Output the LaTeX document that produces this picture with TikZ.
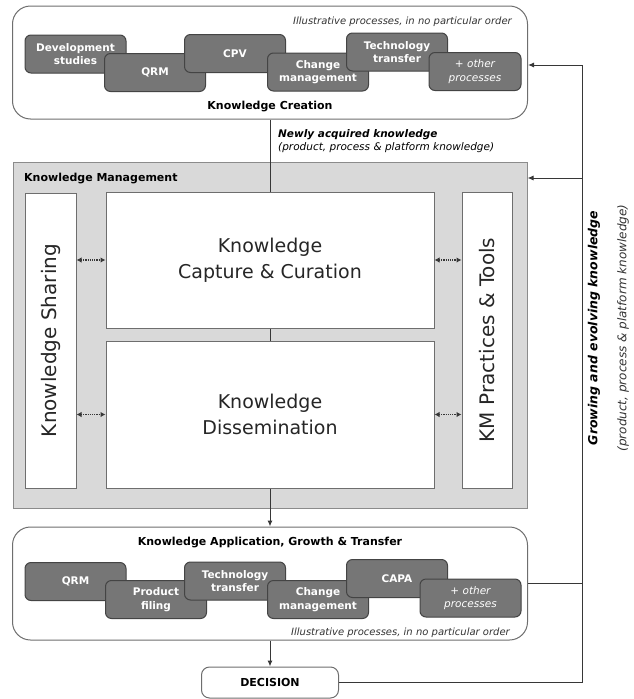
\documentclass[tikz,border=0pt]{standalone}
\usepackage{fontspec}
\setmainfont{DejaVu Sans}
\usetikzlibrary{arrows.meta}
\definecolor{procfill}{RGB}{118,118,118}
\definecolor{procline}{RGB}{68,68,68}
\definecolor{kmfill}{RGB}{217,217,217}
\definecolor{linegray}{RGB}{55,55,55}
\definecolor{boxline}{RGB}{110,110,110}

\begin{document}
\begin{tikzpicture} [
  x=1pt, y=-1pt,
  every node/.style={inner sep=0pt},
  proc/.style={draw=procline, fill=procfill, line width=1pt, rounded corners=6pt,
    minimum width=101pt, minimum height=38pt, text=white, align=center,
    font=\fontsize{10.5}{13.5}\selectfont\bfseries},
  other/.style={proc, font=\fontsize{10.5}{13.5}\selectfont\itshape},
  stage/.style={draw=boxline, fill=white, line width=1pt, rounded corners=18pt,
    minimum width=515pt, minimum height=113pt},
  kmbox/.style={draw=boxline, fill=white, line width=1pt},
  bigtext/.style={align=center, text=black!85, font=\fontsize{19}{26}\selectfont},
  sidetext/.style={rotate=90, text=black!85, font=\fontsize{20}{24}\selectfont},
  note/.style={font=\fontsize{10}{12}\selectfont\itshape, text=black!80},
  title/.style={font=\fontsize{11}{13}\selectfont\bfseries},
  flow/.style={draw=linegray, line width=1pt},
  tip/.style={-{Latex[length=6pt,width=5pt]}},
  link/.style={draw=linegray, line width=1.2pt, densely dotted,
    {Latex[length=5pt,width=5.5pt]}-{Latex[length=5pt,width=5.5pt]}}
  ]
  \useasboundingbox (0,0) rectangle (633,699);

  \node (create) [stage] at (270,62.5) {};
  \node (illtop) [note, anchor=base east] at (512,24) {Illustrative processes, in no particular order};
  \node (devst) [proc] at (75.5,54) {Development\\studies};
  \node (qrmA) [proc] at (155,72.5) {QRM};
  \node (cpvA) [proc] at (235,53.5) {CPV};
  \node (chgA) [proc] at (318,72) {Change\\management};
  \node (techA) [proc] at (397,52) {Technology\\transfer};
  \node (othA) [other, minimum width=92pt] at (475,71.5) {+ other\\processes};
  \node (creation) [title] at (270,107) {Knowledge Creation};

  \node (newk1) [anchor=base west, font=\fontsize{10.5}{13}\selectfont\bfseries\itshape] at (278,137) {Newly acquired knowledge};
  \node (newk2) [anchor=base west, font=\fontsize{10.5}{13}\selectfont\itshape] at (278,150) {(product, process \& platform knowledge)};

  \node (km) [draw=boxline!80, fill=kmfill, line width=1pt, minimum width=514pt, minimum height=346pt] at (270,335) {};
  \node (kmtitle) [anchor=base west, font=\fontsize{11}{13}\selectfont\bfseries] at (24,181) {Knowledge Management};
  \node (share) [kmbox, minimum width=51pt, minimum height=295pt] at (50.5,340.5) {};
  \node (sharetxt) [sidetext] at (share) {Knowledge Sharing};
  \node (capture) [kmbox, bigtext, minimum width=328pt, minimum height=136pt] at (270,260) {Knowledge\\Capture \& Curation};
  \node (dissem) [kmbox, bigtext, minimum width=328pt, minimum height=147pt] at (270,414.5) {Knowledge\\Dissemination};
  \node (kmtools) [kmbox, minimum width=50pt, minimum height=296pt] at (487,340) {};
  \node (kmtoolstxt) [sidetext] at (kmtools) {KM Practices \& Tools};

  \node (apply) [stage] at (270,583.5) {};
  \node (applytitle) [title] at (270,543) {Knowledge Application, Growth \& Transfer};
  \node (qrmB) [proc] at (75.5,581.5) {QRM};
  \node (filB) [proc] at (156,599.5) {Product\\filing};
  \node (techB) [proc] at (235,581) {Technology\\transfer};
  \node (chgB) [proc] at (318,599.5) {Change\\management};
  \node (capaB) [proc] at (397,578.5) {CAPA};
  \node (othB) [other] at (470.5,598) {+ other\\processes};
  \node (illbot) [note, anchor=base east] at (510,635) {Illustrative processes, in no particular order};

  \node (decision) [draw=boxline, fill=white, line width=1pt, rounded corners=8pt,
    minimum width=137pt, minimum height=31pt, font=\fontsize{11}{13}\selectfont\bfseries] at (270,682.5) {DECISION};

  \node (grow1) [rotate=90, font=\fontsize{12.5}{14}\selectfont\bfseries\itshape] at (594,328) {Growing and evolving knowledge};
  \node (grow2) [rotate=90, font=\fontsize{12}{14}\selectfont\itshape, text=black!80] at (623,328) {(product, process \& platform knowledge)};

  \coordinate (loopbot) at (582,682.5);
  \coordinate (looptop) at (582,65);
  \coordinate (kmin) at (582,178);

  \draw[flow] (create.south) -- (capture.north);
  \draw[flow] (capture.south) -- (dissem.north);
  \draw[flow, tip] (dissem.south) -- (apply.north);
  \draw[flow, tip] (apply.south) -- (decision.north);
  \draw[flow, tip] (decision.east) -- (loopbot) -- (looptop) -- (create.east |- looptop);
  \draw[flow, tip] (kmin) -- (km.east |- kmin);
  \draw[flow] (apply.east) -- (apply.east -| loopbot);

  \draw[link] (share.east |- capture.west) -- (capture.west);
  \draw[link] (share.east |- dissem.west) -- (dissem.west);
  \draw[link] (capture.east) -- (kmtools.west |- capture.east);
  \draw[link] (dissem.east) -- (kmtools.west |- dissem.east);
\end{tikzpicture}
\end{document}
